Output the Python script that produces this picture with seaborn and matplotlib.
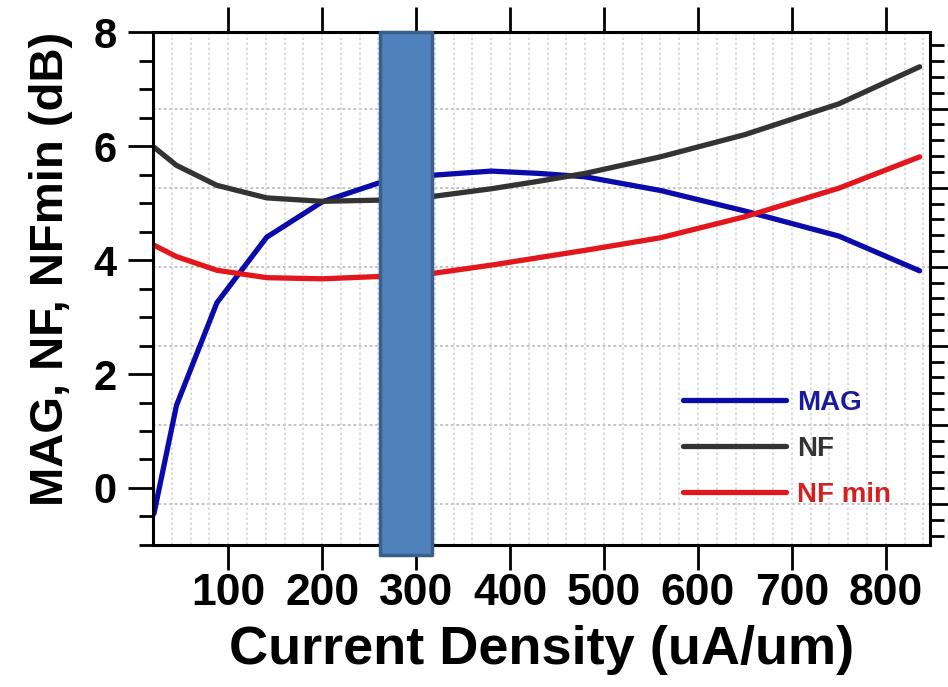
import numpy as np
import pandas as pd
import matplotlib
matplotlib.use("Agg")
import matplotlib.pyplot as plt
import matplotlib.patches as patches
from matplotlib.ticker import MultipleLocator, AutoMinorLocator, NullFormatter
import seaborn as sns

# datos
current_density = [21, 45, 88, 141, 200, 260, 320, 380, 430, 480, 560, 650, 750, 836]
mag = [-0.45, 1.45, 3.25, 4.40, 5.02, 5.35, 5.49, 5.56, 5.52, 5.46, 5.22, 4.86, 4.42, 3.81]
nf = [5.98, 5.66, 5.31, 5.09, 5.03, 5.05, 5.12, 5.25, 5.38, 5.52, 5.81, 6.20, 6.74, 7.39]
nf_min = [4.26, 4.06, 3.82, 3.69, 3.67, 3.71, 3.77, 3.91, 4.04, 4.17, 4.39, 4.76, 5.26, 5.81]

series_names = ["MAG", "NF", "NF min"]
series_colors = ["#0b0bab", "#333333", "#e3161b"]
label_colors = ["#1a1a9c", "#333333", "#d42020"]

x_ticks = [100, 200, 300, 400, 500, 600, 700, 800]
y_ticks = [0, 2, 4, 6, 8]

# zona resaltada (rectangulo azul)
highlight_x = (261.5, 316.5)
highlight_y = (-1.18, 8.0)

sns.set_theme(style="white")
plt.rcParams["font.family"] = ["Liberation Sans", "DejaVu Sans"]
plt.rcParams["font.weight"] = "bold"

fig = plt.figure(figsize=(9.48, 6.87), dpi=100)
ax = fig.add_axes([0.1614, 0.2067, 0.8196, 0.7467])

# eje derecho (solo ticks y rejilla horizontal)
ax2 = ax.twinx()
ax2.set_ylim(-0.52, 5.97)
ax2.yaxis.set_major_locator(MultipleLocator(1))
ax2.yaxis.set_minor_locator(AutoMinorLocator(5))
ax2.yaxis.set_major_formatter(NullFormatter())
ax2.tick_params(axis="y", which="major", direction="out", length=18, width=2, color="black", right=True)
ax2.tick_params(axis="y", which="minor", direction="out", length=10, width=2, color="black", right=True)
ax2.grid(axis="y", which="major", color="#bdbdbd", linestyle=(0, (1.5, 1.5)), linewidth=1.3)
ax2.set_facecolor("white")
for s in ["top", "bottom", "left"]:
    ax2.spines[s].set_visible(False)
ax2.spines["right"].set_linewidth(2.2)
ax2.spines["right"].set_color("black")

ax.set_zorder(ax2.get_zorder() + 1)
ax.patch.set_visible(False)

df = pd.DataFrame({"x": current_density, "MAG": mag, "NF": nf, "NF min": nf_min})
for name, col in zip(series_names, series_colors):
    sns.lineplot(data=df, x="x", y=name, color=col, linewidth=3.8, ax=ax, label=name)

ax.set_xlim(20, 847)
ax.set_ylim(-1, 8)
ax.xaxis.set_major_locator(plt.FixedLocator(x_ticks))
ax.xaxis.set_minor_locator(MultipleLocator(20))
ax.yaxis.set_major_locator(plt.FixedLocator(y_ticks))
ax.yaxis.set_minor_locator(MultipleLocator(0.5))

ax.grid(axis="x", which="both", color="#d6d6d6", linestyle=(0, (1.5, 1.5)), linewidth=1.2)
ax.grid(axis="y", visible=False)

ax.tick_params(axis="x", which="major", direction="out", length=18, width=2, color="black",
               top=True, bottom=True, labeltop=False, labelsize=32, pad=2, labelcolor="black")
ax.tick_params(axis="x", which="minor", length=0)
ax.tick_params(axis="y", which="major", direction="out", length=18, width=2, color="black",
               left=True, labelsize=30, pad=8, labelcolor="black")
ax.tick_params(axis="y", which="minor", direction="out", length=10, width=2, color="black", left=True)
for lab in ax.get_xticklabels() + ax.get_yticklabels():
    lab.set_fontweight("bold")

for s in ["top", "bottom", "left"]:
    ax.spines[s].set_visible(True)
    ax.spines[s].set_linewidth(2.2)
    ax.spines[s].set_color("black")
ax.spines["right"].set_visible(False)

ax.set_xlabel("Current Density (uA/um)", fontsize=39, fontweight="bold", color="black")
ax.set_ylabel("MAG, NF, NFmin (dB)", fontsize=34, fontweight="bold", color="black")
ax.xaxis.set_label_coords(0.5, -0.155)
ax.yaxis.set_label_coords(-0.103, 0.538)

rect = patches.Rectangle((highlight_x[0], highlight_y[0]), highlight_x[1] - highlight_x[0],
                         highlight_y[1] - highlight_y[0], facecolor="#4f81bd", edgecolor="#3a5f8b",
                         linewidth=2.5, clip_on=False, zorder=10, joinstyle="round")
ax.add_patch(rect)

leg = ax.legend(loc="upper left", bbox_to_anchor=(0.682, 0.303), frameon=False,
                fontsize=20, handlelength=3.7, handletextpad=0.4, labelspacing=0.72,
                borderpad=0, borderaxespad=0)
for txt, c in zip(leg.get_texts(), label_colors):
    txt.set_color(c)
    txt.set_fontweight("bold")
for line in leg.get_lines():
    line.set_linewidth(3.8)

fig.savefig("out.png", dpi=100)
